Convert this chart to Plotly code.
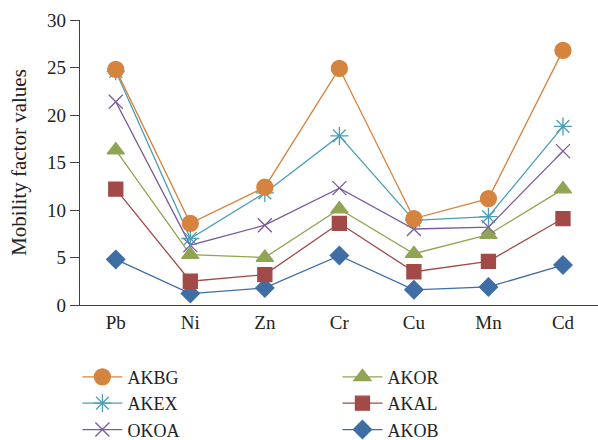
import plotly.graph_objects as go

categories = ["Pb", "Ni", "Zn", "Cr", "Cu", "Mn", "Cd"]
akbg = [24.8, 8.6, 12.4, 24.9, 9.1, 11.2, 26.8]
akex = [24.6, 7.0, 11.8, 17.8, 8.9, 9.3, 18.8]
okoa = [21.4, 6.3, 8.4, 12.3, 8.0, 8.2, 16.2]
akor = [16.3, 5.3, 5.0, 10.1, 5.4, 7.4, 12.2]
akal = [12.2, 2.5, 3.2, 8.6, 3.5, 4.6, 9.1]
akob = [4.8, 1.2, 1.8, 5.2, 1.6, 1.9, 4.2]

series = [
    ("AKOB", akob, "#3F6EA5", "diamond", 14, "legend2"),
    ("AKAL", akal, "#A14A48", "square", 14, "legend2"),
    ("AKOR", akor, "#8FA553", "triangle-up", 15, "legend2"),
    ("OKOA", okoa, "#7A5A9A", "x-thin-open", 14, "legend"),
    ("AKEX", akex, "#4A9FB5", "asterisk-open", 15, "legend"),
    ("AKBG", akbg, "#D5843F", "circle", 16, "legend"),
]
rank = {"AKBG": 1, "AKEX": 2, "OKOA": 3, "AKOR": 4, "AKAL": 5, "AKOB": 6}

FONT = "Liberation Serif"

fig = go.Figure()
for name, vals, color, sym, size, leg in series:
    fig.add_trace(go.Scatter(
        x=categories, y=vals, name=name, mode="lines+markers",
        line=dict(color=color, width=1.3),
        marker=dict(symbol=sym, size=size, color=color,
                    line=dict(color=color, width=1.3)),
        legend=leg, legendrank=rank[name],
    ))

legend_common = dict(yanchor="top", xanchor="left", xref="paper", yref="paper",
                     font=dict(family=FONT, size=18, color="#222222"),
                     tracegroupgap=0, itemwidth=40, bgcolor="rgba(0,0,0,0)")

fig.update_layout(
    width=598, height=440,
    margin=dict(l=80, r=0, t=20, b=135, autoexpand=False),
    paper_bgcolor="white", plot_bgcolor="white",
    font=dict(family=FONT, size=17, color="#222222"),
    showlegend=True,
    legend=dict(x=-0.005, y=-0.188, **legend_common),
    legend2=dict(x=0.497, y=-0.188, **legend_common),
)
fig.update_xaxes(
    range=[-0.48, 6.47], showgrid=False, zeroline=False,
    showline=True, linecolor="#404040", linewidth=1.2,
    ticks="", tickfont=dict(size=19), automargin=False,
)
fig.update_yaxes(
    range=[0, 30], dtick=5, showgrid=False, zeroline=False,
    showline=True, linecolor="#404040", linewidth=1.2,
    ticks="outside", ticklen=9, tickcolor="#404040",
    tickfont=dict(size=19), automargin=False,
    title=dict(text="Mobility factor values", font=dict(size=21), standoff=14),
)
fig.write_html("out.html", config={"displayModeBar": False},
               post_script="document.body.style.margin='0px';document.body.style.overflow='hidden';")
